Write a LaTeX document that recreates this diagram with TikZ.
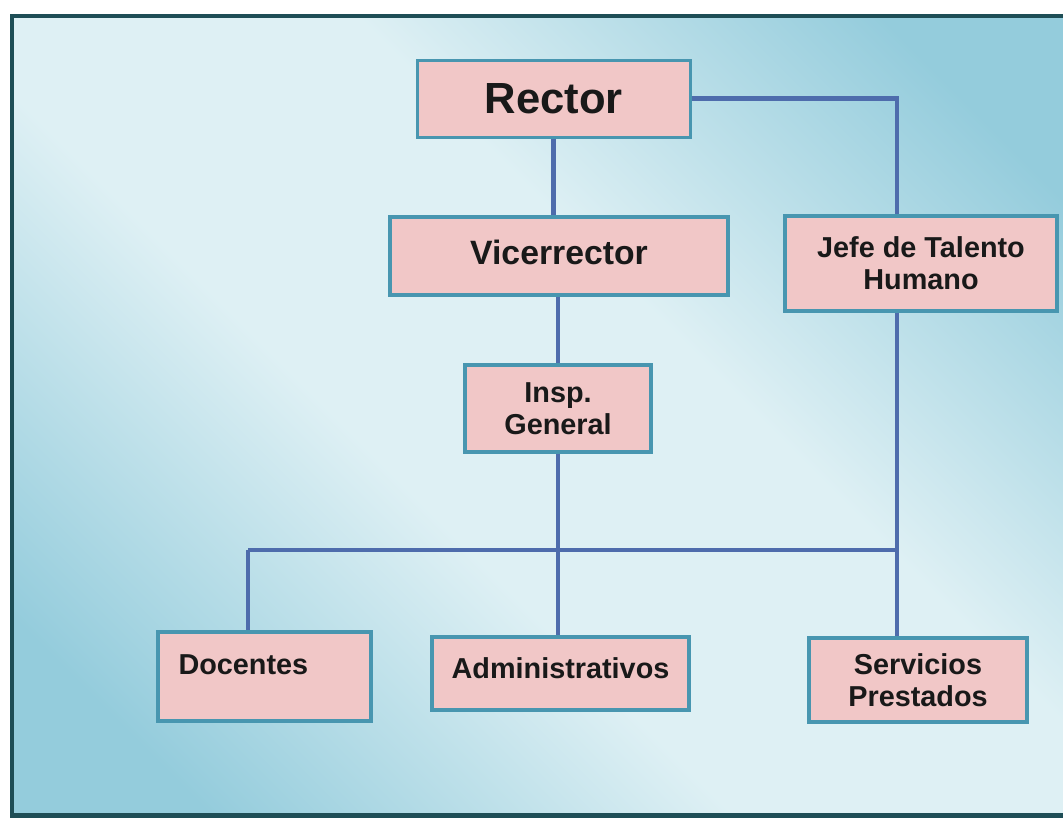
\documentclass[tikz,border=0pt]{standalone}
\usepackage{fontspec}
\setmainfont{Liberation Sans}
\definecolor{boxpink}{RGB}{241,199,199}
\definecolor{boxedge}{RGB}{72,150,176}
\definecolor{linkblue}{RGB}{78,108,172}
\definecolor{framedark}{RGB}{30,78,86}
\definecolor{bglight}{RGB}{222,240,244}
\definecolor{bgdark}{RGB}{148,204,220}
\pgfdeclareverticalshading{diagband}{100bp}{color(0bp)=(bgdark); color(22bp)=(bgdark); color(42bp)=(bglight); color(58bp)=(bglight); color(78bp)=(bgdark); color(100bp)=(bgdark)}

\begin{document}
\begin{tikzpicture}[every node/.style={font=\bfseries\fontsize{20.5}{23}\selectfont,text=black!90},unit/.style={draw=boxedge,line width=2.2pt,fill=boxpink,align=center,inner sep=0pt},link/.style={draw=linkblue,line width=3pt}]
\useasboundingbox (0,0) rectangle (26.575,20.475);
\fill[white] (0,0) rectangle (26.575,20.475);
\begin{scope}
\clip (0,0) rectangle (26.575,20.475);
\shade[shading=diagband,shading angle=-45] (0.3,0.08) rectangle (27,20.075);
\draw[framedark,line width=3.5pt] (27,20.075) -- (0.3,20.075) -- (0.3,0.08) -- (27,0.08);
\end{scope}
\node[unit,minimum width=6.825cm,minimum height=1.925cm,font=\bfseries\fontsize{31}{36}\selectfont] (rector) at (13.84,18.01) {Rector};
\node[unit,minimum width=8.45cm,minimum height=1.95cm,text depth=0.2cm,font=\bfseries\fontsize{24}{28}\selectfont] (vice) at (13.975,14.075) {Vicerrector};
\node[unit,minimum width=6.8cm,minimum height=2.375cm] (jefe) at (23.025,13.8875) {Jefe de Talento\\Humano};
\node[unit,minimum width=4.65cm,minimum height=2.175cm] (insp) at (13.95,10.2625) {Insp.\\General};
\node[unit,minimum width=5.325cm,minimum height=2.225cm,inner xsep=0.5cm,text width=4.3cm,align=left,text depth=0.58cm] (doc) at (6.6125,3.5625) {Docentes};
\node[unit,minimum width=6.425cm,minimum height=1.825cm,text depth=0.28cm] (admin) at (14.0125,3.6375) {Administrativos};
\node[unit,minimum width=5.45cm,minimum height=2.1cm] (serv) at (22.95,3.475) {Servicios\\Prestados};
\coordinate (busL) at (6.2,6.725);
\coordinate (busR) at (22.425,6.725);
\draw[link] (rector.south) -- (rector.south |- vice.north);
\draw[link] (rector.east) -| (busR |- jefe.north);
\draw[link] (insp.north |- vice.south) -- (insp.north);
\draw[link] (insp.south) -- (insp.south |- admin.north);
\draw[link] (busR |- jefe.south) -- (busR |- serv.north);
\draw[link] (busL) -- (busR);
\draw[link] (busL) -- (busL |- doc.north);
\end{tikzpicture}
\end{document}
